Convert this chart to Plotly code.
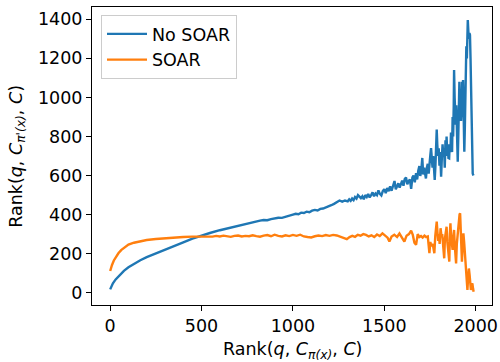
import plotly.graph_objects as go

# (rank x, rank y) pairs
no_soar = [
    (0, 17), (5, 30), (15, 48), (30, 68), (50, 90), (75, 112), (100, 130), (130, 148),
    (165, 166), (200, 182), (250, 202), (300, 221), (350, 240), (400, 258), (450, 277),
    (500, 294), (550, 307), (600, 320), (650, 332), (700, 344), (750, 355), (800, 365),
    (820, 369), (840, 372), (860, 371), (880, 377), (900, 380), (920, 384), (940, 383),
    (960, 390), (980, 394), (1000, 400), (1015, 404), (1030, 402), (1045, 410), (1060, 408),
    (1075, 415), (1090, 412), (1105, 420), (1120, 424), (1135, 421), (1150, 429), (1165, 431),
    (1180, 436), (1195, 440), (1210, 448), (1225, 455), (1240, 463), (1255, 472), (1270, 466),
    (1285, 472), (1300, 468),
    (1308, 478), (1316, 470), (1324, 482), (1332, 474), (1340, 490), (1348, 482), (1356, 500),
    (1364, 492), (1372, 484), (1380, 494), (1388, 478), (1396, 500), (1404, 490), (1412, 505),
    (1420, 488), (1428, 500), (1436, 514), (1444, 494), (1452, 508), (1460, 500), (1468, 524),
    (1476, 506), (1484, 498), (1492, 520), (1500, 530), (1508, 510), (1516, 536), (1524, 520),
    (1532, 545), (1540, 522), (1548, 552), (1556, 572), (1563, 530), (1570, 548), (1577, 560),
    (1584, 538), (1591, 555), (1598, 574), (1605, 548), (1612, 582), (1619, 590), (1626, 555),
    (1633, 570), (1640, 580), (1647, 532), (1654, 590), (1660, 600), (1667, 565), (1674, 612),
    (1680, 580), (1686, 625), (1692, 648), (1697, 598), (1702, 620), (1708, 690), (1713, 605),
    (1718, 640), (1723, 610), (1728, 585), (1733, 640), (1738, 660), (1743, 610), (1748, 690),
    (1752, 705), (1756, 740), (1760, 660), (1764, 640), (1768, 700), (1772, 620), (1776, 577),
    (1780, 650), (1784, 720), (1787, 836), (1790, 760), (1794, 700), (1798, 740), (1802, 650),
    (1806, 720), (1809, 640), (1811, 594), (1815, 690), (1819, 760), (1823, 700), (1827, 740),
    (1831, 640), (1835, 780), (1838, 700), (1841, 800), (1845, 700), (1848, 760), (1851, 690),
    (1855, 688), (1858, 760), (1862, 720), (1865, 820), (1868, 760), (1871, 720), (1874, 900),
    (1877, 800), (1880, 955), (1882, 1140), (1885, 1000), (1888, 900), (1891, 860), (1894, 960),
    (1897, 870), (1900, 760), (1902, 671), (1905, 800), (1908, 900), (1911, 1080), (1914, 960),
    (1917, 1000), (1920, 880), (1923, 935), (1926, 1080), (1929, 1000), (1931, 1089), (1934, 900),
    (1936, 800), (1938, 722), (1941, 850), (1944, 1000), (1946, 1150), (1949, 1262), (1952, 1200),
    (1955, 1360), (1957, 1396), (1960, 1340), (1963, 1300), (1966, 1330), (1969, 1320),
    (1972, 1200), (1975, 1000), (1978, 850), (1981, 700), (1984, 610), (1988, 600),
]

soar = [
    (0, 111), (4, 125), (10, 142), (20, 165), (30, 182), (45, 202), (60, 218), (80, 234),
    (100, 246), (130, 256), (165, 264), (200, 270), (250, 275), (300, 279), (350, 282),
    (400, 285), (450, 287), (500, 288),
    (520, 286), (540, 290), (560, 287), (580, 291), (600, 288), (620, 292), (640, 289),
    (660, 286), (680, 291), (700, 293), (720, 288), (740, 291), (760, 289), (780, 294),
    (800, 290), (820, 287), (840, 292), (860, 295), (880, 289), (900, 297), (920, 291),
    (940, 288), (960, 294), (980, 290), (1000, 296), (1020, 291), (1040, 297), (1060, 288),
    (1080, 285), (1100, 283), (1120, 289), (1140, 293), (1160, 290), (1180, 295), (1200, 291),
    (1220, 296), (1240, 293), (1260, 287), (1280, 280), (1295, 274), (1310, 285), (1325, 291),
    (1340, 286), (1355, 296), (1370, 292), (1385, 300), (1400, 296), (1415, 288), (1430, 294),
    (1445, 285), (1460, 298), (1475, 290), (1490, 304), (1505, 290), (1518, 282), (1528, 262),
    (1540, 288), (1555, 297), (1570, 285), (1583, 303), (1596, 285), (1610, 262), (1622, 292),
    (1635, 300), (1647, 318), (1656, 296), (1665, 256), (1674, 245), (1683, 300), (1692, 285),
    (1701, 290), (1710, 282), (1720, 292), (1729, 285), (1738, 288), (1743, 240), (1747, 202),
    (1752, 260), (1758, 238), (1765, 250), (1770, 215), (1774, 202), (1779, 290), (1783, 340),
    (1787, 364), (1791, 310), (1795, 265), (1799, 300), (1803, 250), (1808, 330), (1813, 290),
    (1817, 300), (1822, 250), (1828, 176), (1832, 280), (1836, 320), (1841, 338), (1845, 260),
    (1850, 220), (1856, 159), (1859, 300), (1862, 355), (1866, 280), (1870, 240), (1874, 219),
    (1878, 290), (1882, 321), (1886, 240), (1890, 190), (1893, 150), (1897, 250), (1901, 304),
    (1905, 330), (1909, 390), (1912, 401), (1915, 406), (1918, 300), (1921, 220), (1925, 159),
    (1929, 240), (1933, 304), (1937, 260), (1941, 200), (1945, 150), (1948, 133), (1951, 90),
    (1955, 14), (1959, 80), (1963, 124), (1967, 90), (1971, 40), (1974, 14), (1978, 40),
    (1982, 48), (1986, 20), (1989, 5),
]

x_ticks = [0, 500, 1000, 1500, 2000]
y_ticks = [0, 200, 400, 600, 800, 1000, 1200, 1400]
x_title = "Rank(<i>q</i>, <i>C</i><sub><i>π(x)</i></sub>, <i>C</i>)"
y_title = "Rank(<i>q</i>, <i>C</i><sub><i>π'(x)</i></sub>, <i>C</i>)"

ns_x, ns_y = zip(*no_soar)
s_x, s_y = zip(*soar)

FONT = "DejaVu Sans"
FS = 17.5
fig = go.Figure()
fig.add_trace(go.Scatter(x=list(ns_x), y=list(ns_y), mode="lines", name="No SOAR",
                         line=dict(color="#1f77b4", width=2.4)))
fig.add_trace(go.Scatter(x=list(s_x), y=list(s_y), mode="lines", name="SOAR",
                         line=dict(color="#ff7f0e", width=2.4)))

axis_common = dict(showline=True, linecolor="black", linewidth=1, mirror=True,
                   ticks="outside", ticklen=5, tickwidth=1, tickcolor="black",
                   showgrid=False, zeroline=False, automargin=False,
                   tickfont=dict(family=FONT, size=FS, color="black"))

fig.update_xaxes(range=[-99.5, 2089.5], tickvals=x_ticks, **axis_common)
fig.update_yaxes(range=[-63, 1463], tickvals=y_ticks, **axis_common)

fig.add_annotation(text=x_title, xref="paper", yref="paper", x=0.5, y=-0.152,
                   xanchor="center", yanchor="middle", showarrow=False,
                   font=dict(family=FONT, size=FS, color="black"))
fig.add_annotation(text=y_title, xref="paper", yref="paper", x=-0.188, y=0.5,
                   xanchor="center", yanchor="middle", showarrow=False, textangle=-90,
                   font=dict(family=FONT, size=FS, color="black"))

fig.update_layout(
    width=500, height=362,
    margin=dict(l=92, r=8, t=7, b=57),
    plot_bgcolor="white", paper_bgcolor="white",
    font=dict(family=FONT, size=FS, color="black"),
    legend=dict(x=0.0225, y=0.973, xanchor="left", yanchor="top", itemwidth=40,
                bgcolor="rgba(255,255,255,0.8)", bordercolor="#cccccc", borderwidth=1,
                font=dict(family=FONT, size=FS, color="black")),
)

fig.write_html("out.html", config={"displayModeBar": False},
               post_script="document.body.style.margin='0';")
